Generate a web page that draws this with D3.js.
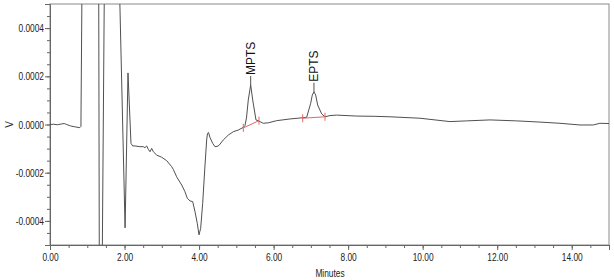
<!DOCTYPE html>
<html>
<head>
<meta charset="utf-8">
<script src="https://cdn.jsdelivr.net/npm/d3@7"></script>
<style>
  body { margin: 0; background: #fff; }
  .tick text { font-family: "Liberation Sans", Arial, sans-serif; font-size: 11px; fill: #222; }
</style>
</head>
<body>
<div id="chart"></div>
<script>
// trace (minutes, volts); off-scale points are guesses
var times = [0.00, 0.10, 0.20, 0.30, 0.38, 0.45, 0.55, 0.65, 0.75, 0.80, 0.83, 0.86, 1.00, 1.25, 1.305, 1.325, 1.35, 1.40,
  1.46, 1.60, 1.80, 1.86, 2.015, 2.093, 2.173, 2.219, 2.281, 2.415, 2.503, 2.549, 2.595, 2.638, 2.683, 2.729, 2.772,
  2.863, 2.997, 3.131, 3.265, 3.308, 3.399, 3.534, 3.622, 3.684, 3.756, 3.829, 3.891, 3.952, 3.998, 4.043, 4.097,
  4.151, 4.204, 4.226, 4.253, 4.293, 4.365, 4.427, 4.481, 4.534, 4.650, 4.784, 4.918, 5.052, 5.187, 5.232, 5.272,
  5.321, 5.385, 5.439, 5.527, 5.608, 5.723, 5.857, 6.083, 6.440, 6.780, 6.888, 6.995, 7.038, 7.083, 7.129, 7.182,
  7.290, 7.379, 7.513, 7.692, 8.229, 8.700, 9.122, 9.927, 10.732, 11.180, 11.806, 12.522, 13.148, 13.684, 14.221,
  14.578, 14.757, 15.00];
var volts = [0.000000, 0.000001, -0.000001, 0.000002, 0.000004, 0.000000, -0.000006, -0.000009, -0.000012, -0.000013,
  -0.000008, 0.0006, 0.003, 0.004, 0.0007, -0.0007, -0.003, -0.0006,
  0.0006, 0.004, 0.003, 0.0006, -0.000429, 0.000214, -0.000078, -0.000089, -0.000089, -0.000092, -0.000092, -0.000096,
  -0.000089, -0.000103, -0.000113, -0.000099, -0.000113,
  -0.000127, -0.000136, -0.000150, -0.000175, -0.000186, -0.000217, -0.000251, -0.000279, -0.000306, -0.000317,
  -0.000320, -0.000362, -0.000410, -0.000458, -0.000431, -0.000327,
  -0.000189, -0.000064, -0.000037, -0.000033, -0.000054, -0.000078, -0.000092, -0.000091, -0.000087, -0.000064,
  -0.000044, -0.000030, -0.000023, -0.000012, -0.000004, 0.000027,
  0.000102, 0.000164, 0.000102, 0.000019, 0.000014, 0.000005, 0.000007, 0.000016, 0.000023, 0.000028, 0.000030,
  0.000088, 0.000122, 0.000136, 0.000122, 0.000081,
  0.000044, 0.000032, 0.000037, 0.000039, 0.000035, 0.000034, 0.000032, 0.000026, 0.000012, 0.000015, 0.000019,
  0.000015, 0.000010, 0.000005, -0.000002,
  -0.000002, 0.000005, 0.000004];

// named peaks and their integration baselines
var peakNames = ["MPTS", "EPTS"];
var peakTimes = [5.385, 7.083];
var peakHeights = [0.000164, 0.000136];
var baseStart = [[5.187, -0.000014], [6.780, 0.000026]];
var baseEnd = [[5.608, 0.000016], [7.379, 0.000032]];

var xTicks = [0, 2, 4, 6, 8, 10, 12, 14];
var yTicks = [-0.0004, -0.0002, 0, 0.0002, 0.0004];

var W = 614, H = 280;
var plotL = 50, plotR = 609, plotT = 4, plotB = 245;
var squeeze = 0.76; // tick labels are a condensed face in the original

var svg = d3.select("#chart").append("svg").attr("width", W).attr("height", H);

var x = d3.scaleLinear().domain([0, 15]).range([plotL, plotR]);
var y = d3.scaleLinear().domain([-0.0005, 0.0005]).range([plotB, plotT]);

svg.append("clipPath").attr("id", "plotclip")
  .append("rect").attr("x", plotL).attr("y", plotT).attr("width", plotR - plotL).attr("height", plotB - plotT);

// frame
svg.append("rect").attr("x", plotL).attr("y", plotT).attr("width", plotR - plotL).attr("height", plotB - plotT)
  .attr("fill", "none").attr("stroke", "#8a8a8a").attr("stroke-width", 1);

// minor ticks
svg.append("g").attr("transform", "translate(" + plotL + ",0)")
  .call(d3.axisLeft(y).tickValues(d3.range(-0.0005, 0.00050001, 0.00005)).tickSize(3).tickFormat(""))
  .call(g => g.select(".domain").remove())
  .call(g => g.selectAll("line").attr("stroke", "#666"));
svg.append("g").attr("transform", "translate(0," + plotB + ")")
  .call(d3.axisBottom(x).tickValues(d3.range(0, 15.01, 0.5)).tickSize(3).tickFormat(""))
  .call(g => g.select(".domain").remove())
  .call(g => g.selectAll("line").attr("stroke", "#666"));

// major ticks + labels
svg.append("g").attr("transform", "translate(" + plotL + ",0)")
  .call(d3.axisLeft(y).tickValues(yTicks).tickSize(5).tickPadding(1).tickFormat(d => d.toFixed(4)))
  .call(g => g.select(".domain").attr("stroke", "#666"))
  .call(g => g.selectAll("line").attr("stroke", "#666"))
  .call(g => g.selectAll("text").attr("x", -6 / squeeze).attr("transform", "scale(" + squeeze + ",1)"));
svg.append("g").attr("transform", "translate(0," + plotB + ")")
  .call(d3.axisBottom(x).tickValues(xTicks).tickSize(5).tickPadding(3).tickFormat(d => d.toFixed(2)))
  .call(g => g.select(".domain").attr("stroke", "#666"))
  .call(g => g.selectAll("line").attr("stroke", "#666"))
  .call(g => g.selectAll("text").attr("transform", "scale(" + squeeze + ",1)"));

// axis titles
svg.append("text").attr("transform", "translate(13," + y(0) + ") rotate(-90)")
  .attr("text-anchor", "middle").style("font-family", "Liberation Sans, Arial, sans-serif")
  .style("font-size", "10px").attr("fill", "#222").text("V");
svg.append("text").attr("transform", "translate(330,277) scale(" + squeeze + ",1)").attr("text-anchor", "middle")
  .style("font-family", "Liberation Sans, Arial, sans-serif")
  .style("font-size", "11px").attr("fill", "#222").text("Minutes");

// trace
var pts = times.map((t, i) => [t, volts[i]]);
svg.append("path").datum(pts)
  .attr("clip-path", "url(#plotclip)")
  .attr("fill", "none").attr("stroke", "#505050").attr("stroke-width", 1)
  .attr("d", d3.line().x(d => x(d[0])).y(d => y(d[1])));

// integration baselines and peak names
for (var i = 0; i < peakNames.length; i++) {
  svg.append("line")
    .attr("x1", x(baseStart[i][0])).attr("y1", y(baseStart[i][1]))
    .attr("x2", x(baseEnd[i][0])).attr("y2", y(baseEnd[i][1]))
    .attr("stroke", "#e06666").attr("stroke-width", 1);
  [baseStart[i], baseEnd[i]].forEach(function (p) {
    svg.append("line")
      .attr("x1", x(p[0])).attr("x2", x(p[0]))
      .attr("y1", y(p[1]) - 4).attr("y2", y(p[1]) + 4)
      .attr("stroke", "#e06666").attr("stroke-width", 1);
  });
  var px = x(peakTimes[i]), py = y(peakHeights[i]);
  svg.append("line").attr("x1", px).attr("x2", px).attr("y1", py).attr("y2", py - 9)
    .attr("stroke", "#505050").attr("stroke-width", 1);
  svg.append("text")
    .attr("transform", "translate(" + (px + 4) + "," + (py - 10) + ") rotate(-90)")
    .style("font-family", "Liberation Sans, Arial, sans-serif").style("font-size", "12px")
    .attr("fill", "#111").text(peakNames[i]);
}
</script>
</body>
</html>
